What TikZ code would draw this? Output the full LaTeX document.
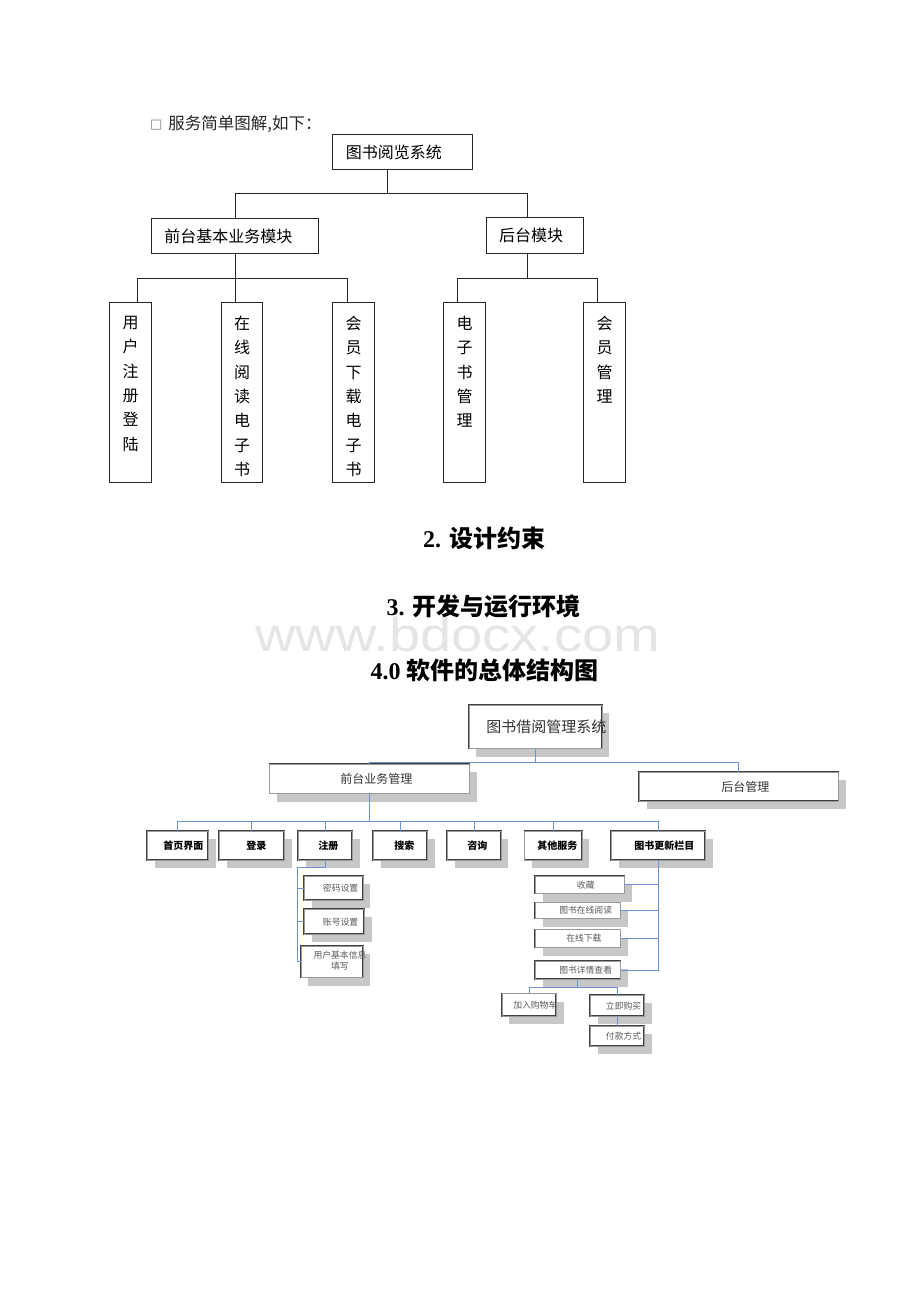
\documentclass[tikz,border=0pt]{standalone}
\usepackage{fontspec}
\usepackage{graphicx}
\setmainfont{Liberation Serif}
\newfontfamily\cjk{Noto Sans CJK SC}
\newfontfamily\symf{DejaVu Sans}
\newfontfamily\wmf{Liberation Sans}
\usetikzlibrary{shadows}
\definecolor{linkblue}{RGB}{108,146,214}
\newcommand\fsz[1]{\fontsize{#1}{#1}\selectfont}
\newcommand\myin[3]{\makebox[#1][l]{\hspace*{#2}#3}}
\newcommand\vtext[1]{\parbox[t][180pt][t]{41.7pt}{\vspace*{13.8pt}\centering\fontsize{16}{24.4}\selectfont #1}}
\begin{document}
\begin{tikzpicture}[x=1pt,y=-1pt,
 tl/.style={draw=black!85,line width=0.9pt},
 tbox/.style={draw=black!85,line width=0.9pt,fill=white,inner xsep=13pt,inner ysep=0pt,align=left,anchor=north west,font=\cjk\fsz{16}},
 vbox/.style={draw=black!85,line width=0.9pt,inner sep=0pt,anchor=north west,font=\cjk},
 sbox/.style={anchor=north west,inner sep=0pt,fill=white,draw=black!75,line width=0.55pt,double=black!40,double distance=0.7pt,drop shadow={shadow xshift=7.5pt,shadow yshift=-8pt,fill=black!22,opacity=1}},
 l1/.style={sbox,font=\cjk\fsz{12},text=black!80},
 l2/.style={sbox,font=\cjk\bfseries\fsz{10},text=black,minimum height=29pt},
 l3/.style={sbox,font=\cjk\fsz{8.8},text=black!65},
 bl/.style={draw=linkblue,line width=0.9pt},
 head/.style={anchor=base,font=\bfseries\fsz{24}},
]
\path[fill=white] (0,0) rectangle (920,1302);
\useasboundingbox (0,0) rectangle (920,1302);

% watermark
\node[anchor=base west,inner sep=0pt,text=black!10,font=\wmf\fsz{47.5},text height=32pt,text depth=0pt] (wm) at (255,651) {\scalebox{1.18}[1]{www.bdocx.com}};

% caption
\node[anchor=base west,inner sep=0pt,font=\cjk\fsz{16.5},text=black!85] (cap) at (150,129.5) {\raisebox{1.5pt}{\symf\fsz{13}\textcolor{black!50}{□}}\hspace{6pt}服务简单图解,如下：};

% top diagram
\node[tbox,text width=113.4pt,minimum height=35.3pt] (T) at (332.3,134) {图书阅览系统};
\node[tbox,text width=141.3pt,minimum height=35.6pt] (F) at (151,217.7) {前台基本业务模块};
\node[tbox,text width=71.6pt,minimum height=35.4pt] (B) at (485.7,217.3) {后台模块};
\node[vbox] (V1) at (109.3,301.7) {\vtext{用\\户\\注\\册\\登\\陆}};
\node[vbox] (V2) at (220.7,301.7) {\vtext{在\\线\\阅\\读\\电\\子\\书}};
\node[vbox] (V3) at (332.3,301.7) {\vtext{会\\员\\下\\载\\电\\子\\书}};
\node[vbox] (V4) at (443.3,301.7) {\vtext{电\\子\\书\\管\\理}};
\node[vbox] (V5) at (583.3,301.7) {\vtext{会\\员\\管\\理}};

\coordinate (tj) at (387.7,193.3);
\draw[tl] (T.south -| tj) -- (tj);
\draw[tl] (F.north) |- (tj) -| ([xshift=-7.2pt]B.north);
\path (F.south) ++(0,24.4) coordinate (fj);
\draw[tl] (F.south) -- (fj);
\draw[tl] ([xshift=7pt]V1.north) |- (fj) -| ([xshift=-6.5pt]V3.north);
\draw[tl] (fj) -- (fj |- V2.north);
\path ([xshift=-7.2pt]B.south) ++(0,25) coordinate (bj);
\draw[tl] ([xshift=-7.2pt]B.south) -- (bj);
\draw[tl] ([xshift=-7.2pt]V4.north) |- (bj) -| ([xshift=-7.5pt]V5.north);

% headings
\node[head] (h2) at (484,547) {2. {\cjk\bfseries 设计约束}};
\node[head] (h3) at (483.5,615) {3. {\cjk\bfseries 开发与运行环境}};
\node[head] (h4) at (484.5,679) {4.0 {\cjk\bfseries 软件的总体结构图}};

% bottom diagram
\node[l1,minimum height=43.3pt] (Root) at (468.6,705) {\myin{133.1pt}{17.4pt}{\fsz{15}图书借阅管理系统}};
\node[l1,minimum height=29.3pt] (FM) at (269.3,764) {\myin{200pt}{70.7pt}{前台业务管理}};
\node[l1,minimum height=29.3pt] (BM) at (639,771.7) {\myin{199.3pt}{82pt}{后台管理}};

\node[l2] (L1) at (147,831) {\myin{61pt}{16pt}{首页界面}};
\node[l2] (L2) at (219,831) {\myin{65pt}{27pt}{登录}};
\node[l2] (L3) at (298,831) {\myin{54pt}{20pt}{注册}};
\node[l2] (L4) at (373,831) {\myin{54pt}{21pt}{搜索}};
\node[l2] (L5) at (447,831) {\myin{53.7pt}{20pt}{咨询}};
\node[l2] (L6) at (524.3,831) {\myin{57.4pt}{12.7pt}{其他服务}};
\node[l2] (L7) at (611,831) {\myin{94pt}{23pt}{图书更新栏目}};

\node[l3,minimum height=24.3pt] (S1) at (304,875.7) {\myin{58.7pt}{18.7pt}{密码设置}};
\node[l3,minimum height=25pt] (S2) at (304,909) {\myin{60pt}{18.7pt}{账号设置}};
\node[l3,minimum height=31.6pt] (S3) at (300.7,945.7) {\myin{62pt}{12.6pt}{\fontsize{8.8}{11}\selectfont\begin{tabular}{@{}c@{}}用户基本信息\\填写\end{tabular}}};

\node[l3,minimum height=17.6pt] (R1) at (535,875.7) {\myin{89.3pt}{41.7pt}{收藏}};
\node[l3,minimum height=16pt] (R2) at (535,902.3) {\myin{85.3pt}{24pt}{图书在线阅读}};
\node[l3,minimum height=18pt] (R3) at (535,929.3) {\myin{85.3pt}{31pt}{在线下载}};
\node[l3,minimum height=18pt] (R4) at (535,961) {\myin{85.3pt}{24pt}{图书详情查看}};
\node[l3,minimum height=22.7pt] (C1) at (501.7,993.3) {\myin{54.3pt}{11.3pt}{加入购物车}};
\node[l3,minimum height=21pt] (C2) at (590,995) {\myin{54pt}{15.7pt}{立即购买}};
\node[l3,minimum height=20pt] (C3) at (590,1026) {\myin{54pt}{15.7pt}{付款方式}};

\path (Root.south) ++(0,13.4) coordinate (rj);
\draw[bl] (Root.south) -- (rj);
\draw[bl] (FM.north) |- (rj) -| (BM.north);
\path (FM.south) ++(0,27.7) coordinate (fmj);
\draw[bl] (FM.south) -- (fmj);
\draw[bl] (L1.north) |- (fmj) -| (L7.north);
\foreach \n in {L2,L3,L4,L5,L6} \draw[bl] (\n.north) -- (\n.north |- fmj);
\path (L3.south) ++(-28.3,6.7) coordinate (zj);
\draw[bl] (L3.south) |- (zj) |- (S1.west);
\draw[bl] (zj) |- (S2.west);
\draw[bl] (zj) |- (S3.west);
\foreach \n in {R1,R2,R3,R4} \draw[bl] (L7.south) |- (\n.east);
\path (R4.south) ++(0,7.7) coordinate (dj);
\draw[bl] (R4.south) -- (dj);
\draw[bl] (C1.north) |- (dj) -| (C2.north);
\draw[bl] (C2.south) -- (C3.north);
\end{tikzpicture}
\end{document}
